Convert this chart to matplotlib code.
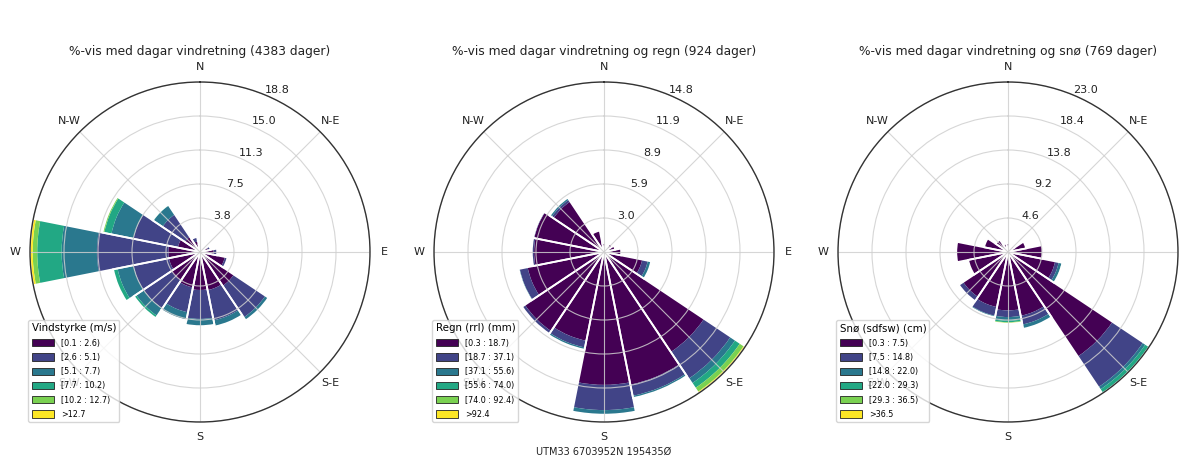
import numpy as np
import matplotlib.pyplot as plt
from matplotlib.patches import Patch

# 16 sectors, clockwise from north
sectors = ["N", "NNE", "NE", "ENE", "E", "ESE", "SE", "SSE",
           "S", "SSW", "SW", "WSW", "W", "WNW", "NW", "NNW"]
compass = ["N", "N-E", "E", "S-E", "S", "S-W", "W", "N-W"]

# percent of days per sector, one row per class
vind = [
    [0.7, 0.5, 0.6, 0.9, 1.5, 2.8, 4.5, 4.3, 4.2, 4.0, 3.8, 3.5, 3.5, 2.5, 2.0, 1.2],
    [0.1, 0.1, 0.1, 0.3, 0.4, 0.3, 4.2, 3.4, 3.2, 2.8, 3.7, 4.0, 7.9, 5.0, 3.0, 0.5],
    [0.0, 0.0, 0.0, 0.0, 0.0, 0.0, 0.4, 0.7, 0.8, 0.9, 1.0, 1.8, 3.9, 2.5, 1.2, 0.0],
    [0.0, 0.0, 0.0, 0.0, 0.0, 0.0, 0.0, 0.0, 0.0, 0.0, 0.3, 0.5, 2.7, 0.8, 0.1, 0.0],
    [0.0, 0.0, 0.0, 0.0, 0.0, 0.0, 0.0, 0.0, 0.0, 0.0, 0.0, 0.0, 0.5, 0.2, 0.0, 0.0],
    [0.0, 0.0, 0.0, 0.0, 0.0, 0.0, 0.0, 0.0, 0.0, 0.0, 0.0, 0.0, 0.3, 0.0, 0.0, 0.0],
]
vind_classes = ["[0.1 : 2.6)", "[2.6 : 5.1)", "[5.1 : 7.7)",
                "[7.7 : 10.2)", "[10.2 : 12.7)", ">12.7"]

regn = [
    [0.8, 0.6, 0.9, 1.0, 1.5, 3.4, 10.5, 11.8, 11.6, 7.9, 8.3, 6.8, 6.1, 6.2, 5.3, 1.9],
    [0.0, 0.0, 0.0, 0.0, 0.0, 0.5, 2.8, 1.0, 2.2, 0.6, 0.3, 0.7, 0.2, 0.1, 0.2, 0.0],
    [0.0, 0.0, 0.0, 0.0, 0.0, 0.3, 0.5, 0.2, 0.4, 0.2, 0.0, 0.1, 0.0, 0.0, 0.2, 0.0],
    [0.0, 0.0, 0.0, 0.0, 0.0, 0.0, 0.5, 0.0, 0.0, 0.0, 0.0, 0.0, 0.0, 0.0, 0.0, 0.0],
    [0.0, 0.0, 0.0, 0.0, 0.0, 0.0, 0.4, 0.0, 0.0, 0.0, 0.0, 0.0, 0.0, 0.0, 0.0, 0.0],
    [0.0, 0.0, 0.0, 0.0, 0.0, 0.0, 0.14, 0.0, 0.0, 0.0, 0.0, 0.0, 0.0, 0.0, 0.0, 0.0],
]
regn_classes = ["[0.3 : 18.7)", "[18.7 : 37.1)", "[37.1 : 55.6)",
                "[55.6 : 74.0)", "[74.0 : 92.4)", ">92.4"]

sno = [
    [1.2, 0.8, 1.0, 2.5, 4.7, 6.5, 17.0, 8.8, 7.9, 7.6, 7.3, 5.5, 7.0, 3.3, 2.0, 1.2],
    [0.0, 0.0, 0.0, 0.0, 0.0, 0.5, 5.0, 1.2, 0.9, 1.2, 0.7, 0.0, 0.0, 0.0, 0.0, 0.0],
    [0.0, 0.0, 0.0, 0.0, 0.0, 0.4, 0.4, 0.6, 0.5, 0.2, 0.0, 0.0, 0.0, 0.0, 0.0, 0.0],
    [0.0, 0.0, 0.0, 0.0, 0.0, 0.1, 0.6, 0.0, 0.2, 0.0, 0.0, 0.0, 0.0, 0.0, 0.0, 0.0],
    [0.0, 0.0, 0.0, 0.0, 0.0, 0.0, 0.0, 0.0, 0.1, 0.0, 0.0, 0.0, 0.0, 0.0, 0.0, 0.0],
    [0.0, 0.0, 0.0, 0.0, 0.0, 0.0, 0.0, 0.0, 0.1, 0.0, 0.0, 0.0, 0.0, 0.0, 0.0, 0.0],
]
sno_classes = ["[0.3 : 7.5)", "[7.5 : 14.8)", "[14.8 : 22.0)",
               "[22.0 : 29.3)", "[29.3 : 36.5)", ">36.5"]

titles = ["%-vis med dagar vindretning (4383 dager)",
          "%-vis med dagar vindretning og regn (924 dager)",
          "%-vis med dagar vindretning og snø (769 dager)"]
legend_titles = ["Vindstyrke (m/s)", "Regn (rrl) (mm)", "Snø (sdfsw) (cm)"]


def rose(ax, table, classes, legend_title):
    table = np.array(table)
    theta = np.radians(np.arange(len(sectors)) * 360.0 / len(sectors))
    width = 2 * np.pi / len(sectors)
    colors = plt.cm.viridis(np.linspace(0, 1, len(table)))

    ax.set_theta_zero_location("N")
    ax.set_theta_direction(-1)

    bottom = np.zeros(len(sectors))
    for row, c in zip(table, colors):
        ax.bar(theta, row, width=width, bottom=bottom, color=c, linewidth=0)
        bottom += row
    # white outline splits the sectors
    ax.bar(theta, bottom, width=width, fill=False, edgecolor="white", linewidth=1.3)

    rmax = bottom.max()
    ax.set_ylim(0, rmax)
    radii = np.linspace(0, rmax, 6)[1:]
    ax.set_rgrids(radii, ["%.1f" % r for r in radii], angle=22.5,
                  fontsize=8, color="#222222")
    ax.set_thetagrids(np.arange(0, 360, 45), compass, fontsize=8, color="#222222")
    ax.tick_params(axis="x", pad=0)
    ax.grid(True, color="#cfcfcf", linewidth=0.8, alpha=0.85)
    ax.spines["polar"].set_color("#333333")
    ax.spines["polar"].set_linewidth(1.0)

    handles = [Patch(facecolor=c, edgecolor="#222222", linewidth=0.6) for c in colors]
    leg = ax.legend(handles, classes, title=legend_title, loc="lower left",
                    bbox_to_anchor=(-0.005, 0.0), borderaxespad=0,
                    fontsize=5.8, title_fontsize=7.4, handlelength=2.8,
                    handleheight=1.0, labelspacing=0.65, handletextpad=0.9,
                    alignment="left")
    leg.set_zorder(10)


fig = plt.figure(figsize=(11.84, 4.66), dpi=100)
W, H = 1184.0, 466.0
centers = [200, 604, 1008]
R = 170
cy = 252
tables = [vind, regn, sno]
class_lists = [vind_classes, regn_classes, sno_classes]

for cx, table, classes, ttl, ltitle in zip(centers, tables, class_lists, titles, legend_titles):
    ax = fig.add_axes([(cx - R) / W, (H - cy - R) / H, 2 * R / W, 2 * R / H],
                      projection="polar")
    rose(ax, table, classes, ltitle)
    fig.text(cx / W, (H - 52) / H, ttl, ha="center", va="center",
             fontsize=8.8, color="#222222")

fig.text(604 / W, (H - 452) / H, "UTM33 6703952N 195435Ø", ha="center",
         va="center", fontsize=7, color="#222222")

fig.savefig("out.png", dpi=100)
